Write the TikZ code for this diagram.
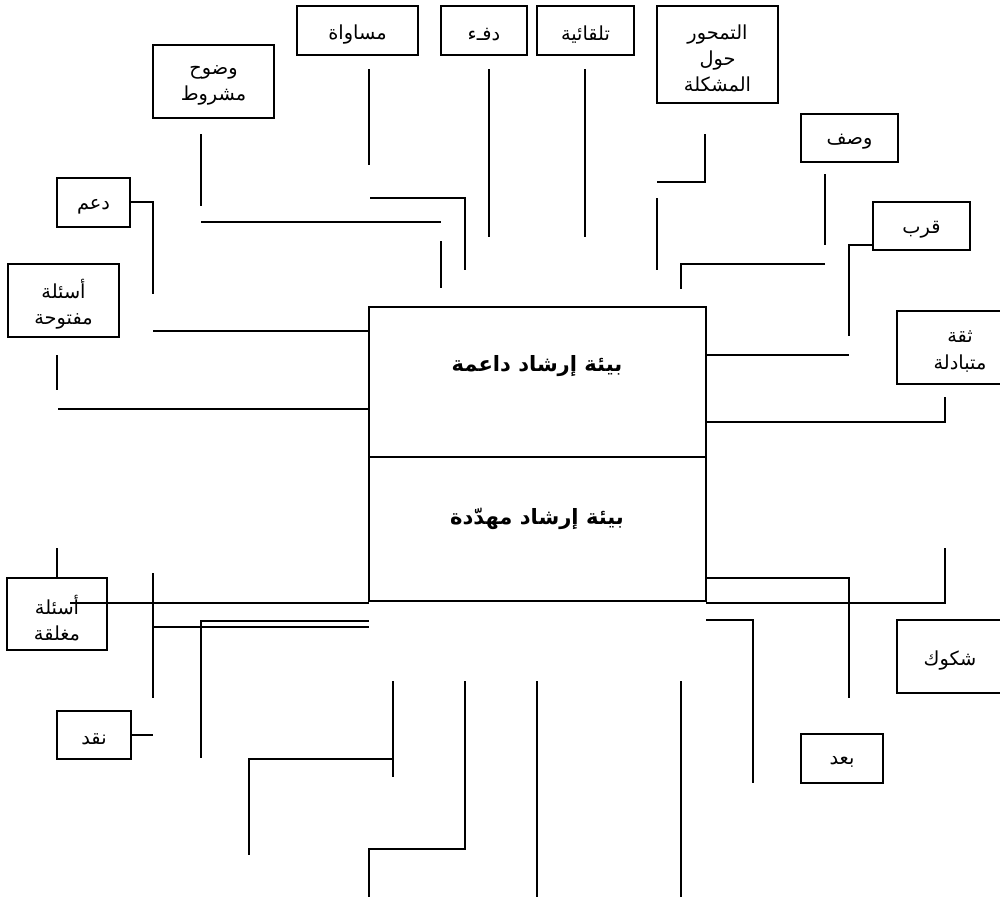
\documentclass[tikz,border=0pt]{standalone}
\usepackage{fontspec}
\newfontfamily\arabicfont[Script=Arabic]{DejaVu Sans}
\TeXXeTstate=1
\newcommand\ar[1]{\raisebox{-2.2pt}[\height][\depth]{\arabicfont\beginR #1\endR}}
\begin{document}
\begin{tikzpicture}[x=0.02cm, y=-0.02cm,
  bx/.style 2 args={draw, line width=0.7pt, minimum width={#1*0.02cm}, minimum height={#2*0.02cm}, inner sep=0pt, align=center, font=\fontsize{11}{15}\selectfont},
  mainbox/.style={draw, line width=1pt, minimum width={337*0.02cm}, minimum height={150*0.02cm}, inner sep=0pt},
  maintext/.style={font=\fontsize{12}{14}\selectfont\bfseries},
  ln/.style={line width=0.7pt}]
\clip (0,0) rectangle (1000,896);
\fill[white] (0,0) rectangle (1000,896);
% boxes
\node[bx={121}{73}] (wudooh) at (213.5,81.5) {\ar{وضوح}\\\ar{مشروط}};
\node[bx={121}{49}] (musawat) at (357.5,30.5) {\ar{مساواة}};
\node[bx={86}{49}] (dif) at (484,30.5) {\ar{دفـء}};
\node[bx={97}{49}] (talqa) at (585.5,30.5) {\ar{تلقائية}};
\node[bx={121}{97}] (tamah) at (717.5,54.5) {\ar{التمحور}\\\ar{حول}\\\ar{المشكلة}};
\node[bx={97}{48}] (wasf) at (849.5,138) {\ar{وصف}};
\node[bx={97}{48}] (qurb) at (921.5,226) {\ar{قرب}};
\node[bx={126}{73}] (thiqa) at (960,347.5) {\ar{ثقة}\\\ar{متبادلة}};
\node[bx={106}{73}] (shukuk) at (950,656.5) {\ar{شكوك}};
\node[bx={73}{49}] (daam) at (93.5,202.5) {\ar{دعم}};
\node[bx={111}{73}] (maftuha) at (63.5,300.5) {\ar{أسئلة}\\\ar{مفتوحة}};
\node[bx={100}{72}] (mughlaqa) at (57,614) {\ar{أسئلة}\\\ar{مغلقة}};
\node[bx={74}{48}] (naqd) at (94,735) {\ar{نقد}};
\node[bx={82}{49}] (baad) at (842,758.5) {\ar{بعد}};
% main box
\node[mainbox] (top) at (537.5,382) {};
\node[mainbox, minimum height={144*0.02cm}] (bot) at (537.5,529) {};
\node[maintext] (ttop) at (537,362) {\ar{بيئة إرشاد داعمة}};
\node[maintext] (tbot) at (537,515) {\ar{بيئة إرشاد مهدّدة}};
% lines (top)
\draw[ln] (201,134) -- (201,206);
\draw[ln] (369,69) -- (369,165);
\draw[ln] (370,198) -- (465,198) -- (465,270);
\draw[ln] (201,222) -- (441,222);
\draw[ln] (441,241) -- (441,288);
\draw[ln] (489,69) -- (489,237);
\draw[ln] (daam.east |- 0,202) -- (153,202) -- (153,294);
\draw[ln] (585,69) -- (585,237);
\draw[ln] (705,134) -- (705,182) -- (657,182);
\draw[ln] (657,198) -- (657,270);
\draw[ln] (825,174) -- (825,245);
\draw[ln] (825,264) -- (681,264) -- (681,289);
\draw[ln] (qurb.west |- 0,245) -- (849,245) -- (849,336);
% lines (middle)
\draw[ln] (153,331) -- (top.west |- 0,331);
\draw[ln] (57,355) -- (57,390);
\draw[ln] (58,409) -- (top.west |- 0,409);
\draw[ln] (top.east |- 0,355) -- (849,355);
\draw[ln] (945,397) -- (945,422) -- (top.east |- 0,422);
\draw[ln] (bot.east |- 0,578) -- (849,578) -- (849,698);
\draw[ln] (945,548) -- (945,603) -- (706,603);
% lines (left bottom)
\draw[ln] (57,548) -- (mughlaqa.north);
\draw[ln] (153,573) -- (153,698);
\draw[ln] (70,603) -- (369,603);
\draw[ln] (369,621) -- (201,621) -- (201,758);
\draw[ln] (153,627) -- (369,627);
\draw[ln] (naqd.east |- 0,735) -- (153,735);
\draw[ln] (393,681) -- (393,777);
\draw[ln] (393,759) -- (249,759) -- (249,855);
\draw[ln] (465,681) -- (465,849) -- (369,849) -- (369,900);
\draw[ln] (537,681) -- (537,900);
\draw[ln] (681,681) -- (681,900);
\draw[ln] (706,620) -- (753,620) -- (753,783);
\end{tikzpicture}
\end{document}
